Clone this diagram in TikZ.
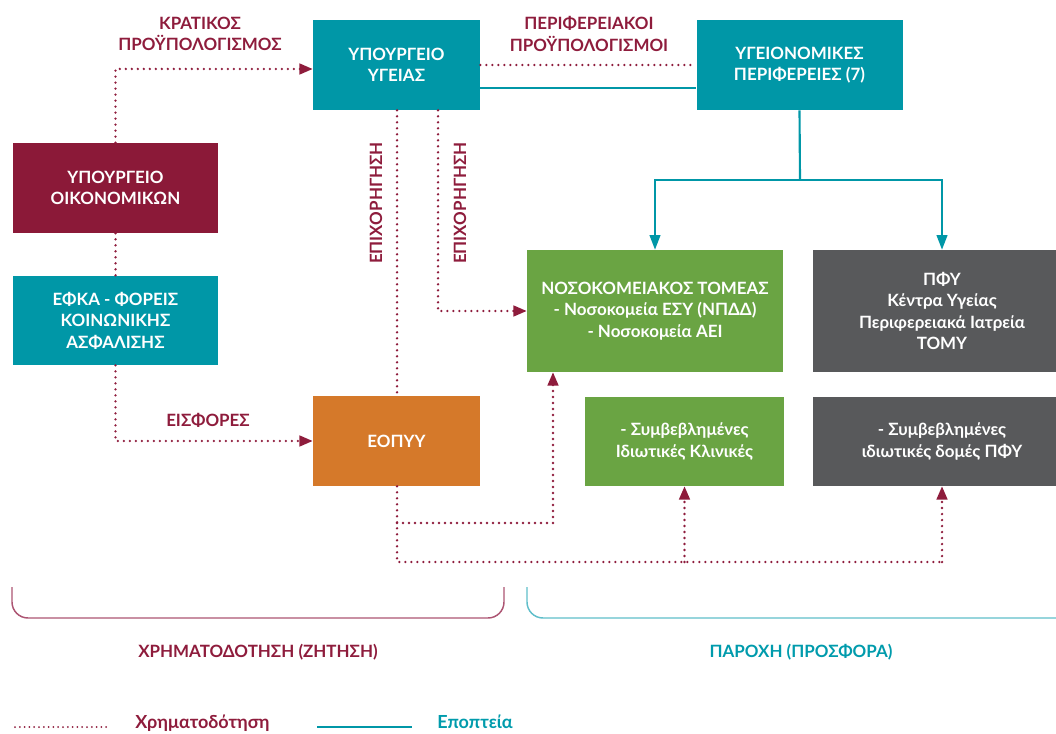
\documentclass[tikz,border=0pt]{standalone}
\usepackage{fontspec}
\setmainfont{Lato}
\usetikzlibrary{arrows.meta,calc}
\definecolor{teal1}{RGB}{0,151,167}
\definecolor{maroon1}{RGB}{139,25,56}
\definecolor{orange1}{RGB}{213,121,42}
\definecolor{green1}{RGB}{106,164,67}
\definecolor{grey1}{RGB}{88,89,91}
\definecolor{lab}{RGB}{142,28,60}
\definecolor{brk1}{RGB}{172,84,114}
\definecolor{brk2}{RGB}{95,190,202}
\definecolor{labteal}{RGB}{0,155,172}
\begin{document}
\begin{tikzpicture}[x=0.75pt,y=-0.75pt,
  box/.style={rectangle, inner sep=0pt, text=white, align=center,
    font=\bfseries\fontsize{12.7}{16.2}\selectfont},
  lbl/.style={inner sep=0pt, text=lab, align=center,
    font=\bfseries\fontsize{12.7}{16}\selectfont},
  fund/.style={draw=lab, line width=1.9pt, dash pattern=on 0pt off 4.5pt, line cap=round},
  fundarrow/.style={fund, -{Triangle[length=10pt,width=8pt]}},
  sup/.style={draw=teal1, line width=1.6pt},
  suparrow/.style={sup, -{Triangle[length=11pt,width=8pt]}},
]
\useasboundingbox (0,0) rectangle (1056,734);
\clip (0,0) rectangle (1056,734);

% boxes
\node[box, fill=teal1, minimum width=125.25pt, minimum height=67.5pt] (ypy) at (396.5,65) {ΥΠΟΥΡΓΕΙΟ\\ΥΓΕΙΑΣ};
\node[box, fill=teal1, minimum width=154.5pt, minimum height=67.5pt] (yp) at (799.5,65) {ΥΓΕΙΟΝΟΜΙΚΕΣ\\ΠΕΡΙΦΕΡΕΙΕΣ (7)};
\node[box, fill=maroon1, minimum width=153.75pt, minimum height=67.5pt] (oik) at (115.5,188) {ΥΠΟΥΡΓΕΙΟ\\ΟΙΚΟΝΟΜΙΚΩΝ};
\node[box, fill=teal1, minimum width=153.75pt, minimum height=67pt] (efka) at (115.5,320.5) {ΕΦΚΑ - ΦΟΡΕΙΣ\\ΚΟΙΝΩΝΙΚΗΣ\\ΑΣΦΑΛΙΣΗΣ};
\node[box, fill=orange1, minimum width=125.25pt, minimum height=67.5pt] (eopyy) at (396.5,441) {ΕΟΠΥΥ};
\node[box, fill=green1, minimum width=192pt, minimum height=91.5pt] (nos) at (655,311) {ΝΟΣΟΚΟΜΕΙΑΚΟΣ ΤΟΜΕΑΣ\\- Νοσοκομεία ΕΣΥ (ΝΠΔΔ)\\- Νοσοκομεία ΑΕΙ};
\node[box, fill=grey1, minimum width=193.5pt, minimum height=91.5pt] (pfy) at (942,311) {ΠΦΥ\\Κέντρα Υγείας\\Περιφερειακά Ιατρεία\\ΤΟΜΥ};
\node[box, fill=green1, minimum width=149.25pt, minimum height=66.75pt] (klin) at (684.5,441.5) {- Συμβεβλημένες\\Ιδιωτικές Κλινικές};
\node[box, fill=grey1, minimum width=193.5pt, minimum height=66.75pt] (dom) at (942,441.5) {- Συμβεβλημένες\\ιδιωτικές δομές ΠΦΥ};

% labels
\node[lbl] (lkrat) at (200,34) {ΚΡΑΤΙΚΟΣ\\ΠΡΟΫΠΟΛΟΓΙΣΜΟΣ};
\node[lbl] (lper) at (589,34) {ΠΕΡΙΦΕΡΕΙΑΚΟΙ\\ΠΡΟΫΠΟΛΟΓΙΣΜΟΙ};
\node[lbl] (leisf) at (208,420) {ΕΙΣΦΟΡΕΣ};
\node[lbl, rotate=90] (lepi1) at (376,203) {ΕΠΙΧΟΡΗΓΗΣΗ};
\node[lbl, rotate=90] (lepi2) at (460,203) {ΕΠΙΧΟΡΗΓΗΣΗ};
\node[lbl] (lxr) at (258,652) {ΧΡΗΜΑΤΟΔΟΤΗΣΗ (ΖΗΤΗΣΗ)};
\node[lbl, text=labteal] (lpar) at (801,652) {ΠΑΡΟΧΗ (ΠΡΟΣΦΟΡΑ)};

% funding connectors
\draw[fundarrow] (oik.north) |- ($(ypy.west)+(0,4)$);
\draw[fund] (oik.south) -- (efka.north);
\draw[fundarrow] (efka.south) |- (eopyy.west);
\draw[fund] (ypy.east) -- (yp.west);
\draw[fund] ($(ypy.south)+(0.5,0)$) -- ($(eopyy.north)+(0.5,0)$);
\draw[fundarrow] ($(ypy.south)+(41.5,0)$) |- (nos.west);

\coordinate (b1) at (397,523);
\coordinate (b2) at (397,562);
\coordinate (c1) at (553,523);
\coordinate (c3) at (684.5,562);
\coordinate (c2) at (942,562);
\draw[fund] ($(eopyy.south)+(0.5,0)$) -- (b2) -- (c2);
\draw[fundarrow] (b1) -- (c1) -- (c1 |- nos.south);
\draw[fundarrow] (c3) -- (klin.south);
\draw[fundarrow] (c2) -- (dom.south);

% supervision connectors
\draw[sup] ($(ypy.east)+(0,23)$) -- ($(yp.west)+(0,23)$);
\coordinate (j) at (800,180);
\draw[sup] (yp.south) -- (j);
\draw[suparrow] (j) -| (nos.north);
\draw[suparrow] (j) -| (pfy.north);

% brackets
\draw[brk1, line width=1.1pt, rounded corners=12pt] (12,587) -- (12,618) -- (504,618) -- (504,587);
\draw[brk2, line width=1.1pt, rounded corners=12pt] (527,587) -- (527,618) -- (1080,618);

% legend
\coordinate (la) at (15,727);
\coordinate (lb) at (110,727);
\draw[draw=lab, line width=1.5pt, dash pattern=on 0pt off 3.6pt, line cap=round] (la) -- (lb);
\node[anchor=base west, inner sep=0pt, text=lab, font=\bfseries\fontsize{13.5}{16}\selectfont] (lfund) at (135,728) {Χρηματοδότηση};
\coordinate (lc) at (317,727);
\coordinate (ld) at (412,727);
\draw[draw=teal1, line width=2pt] (lc) -- (ld);
\node[anchor=base west, inner sep=0pt, text=labteal, font=\bfseries\fontsize{13.5}{16}\selectfont] (lsup) at (437,728) {Εποπτεία};
\end{tikzpicture}
\end{document}
